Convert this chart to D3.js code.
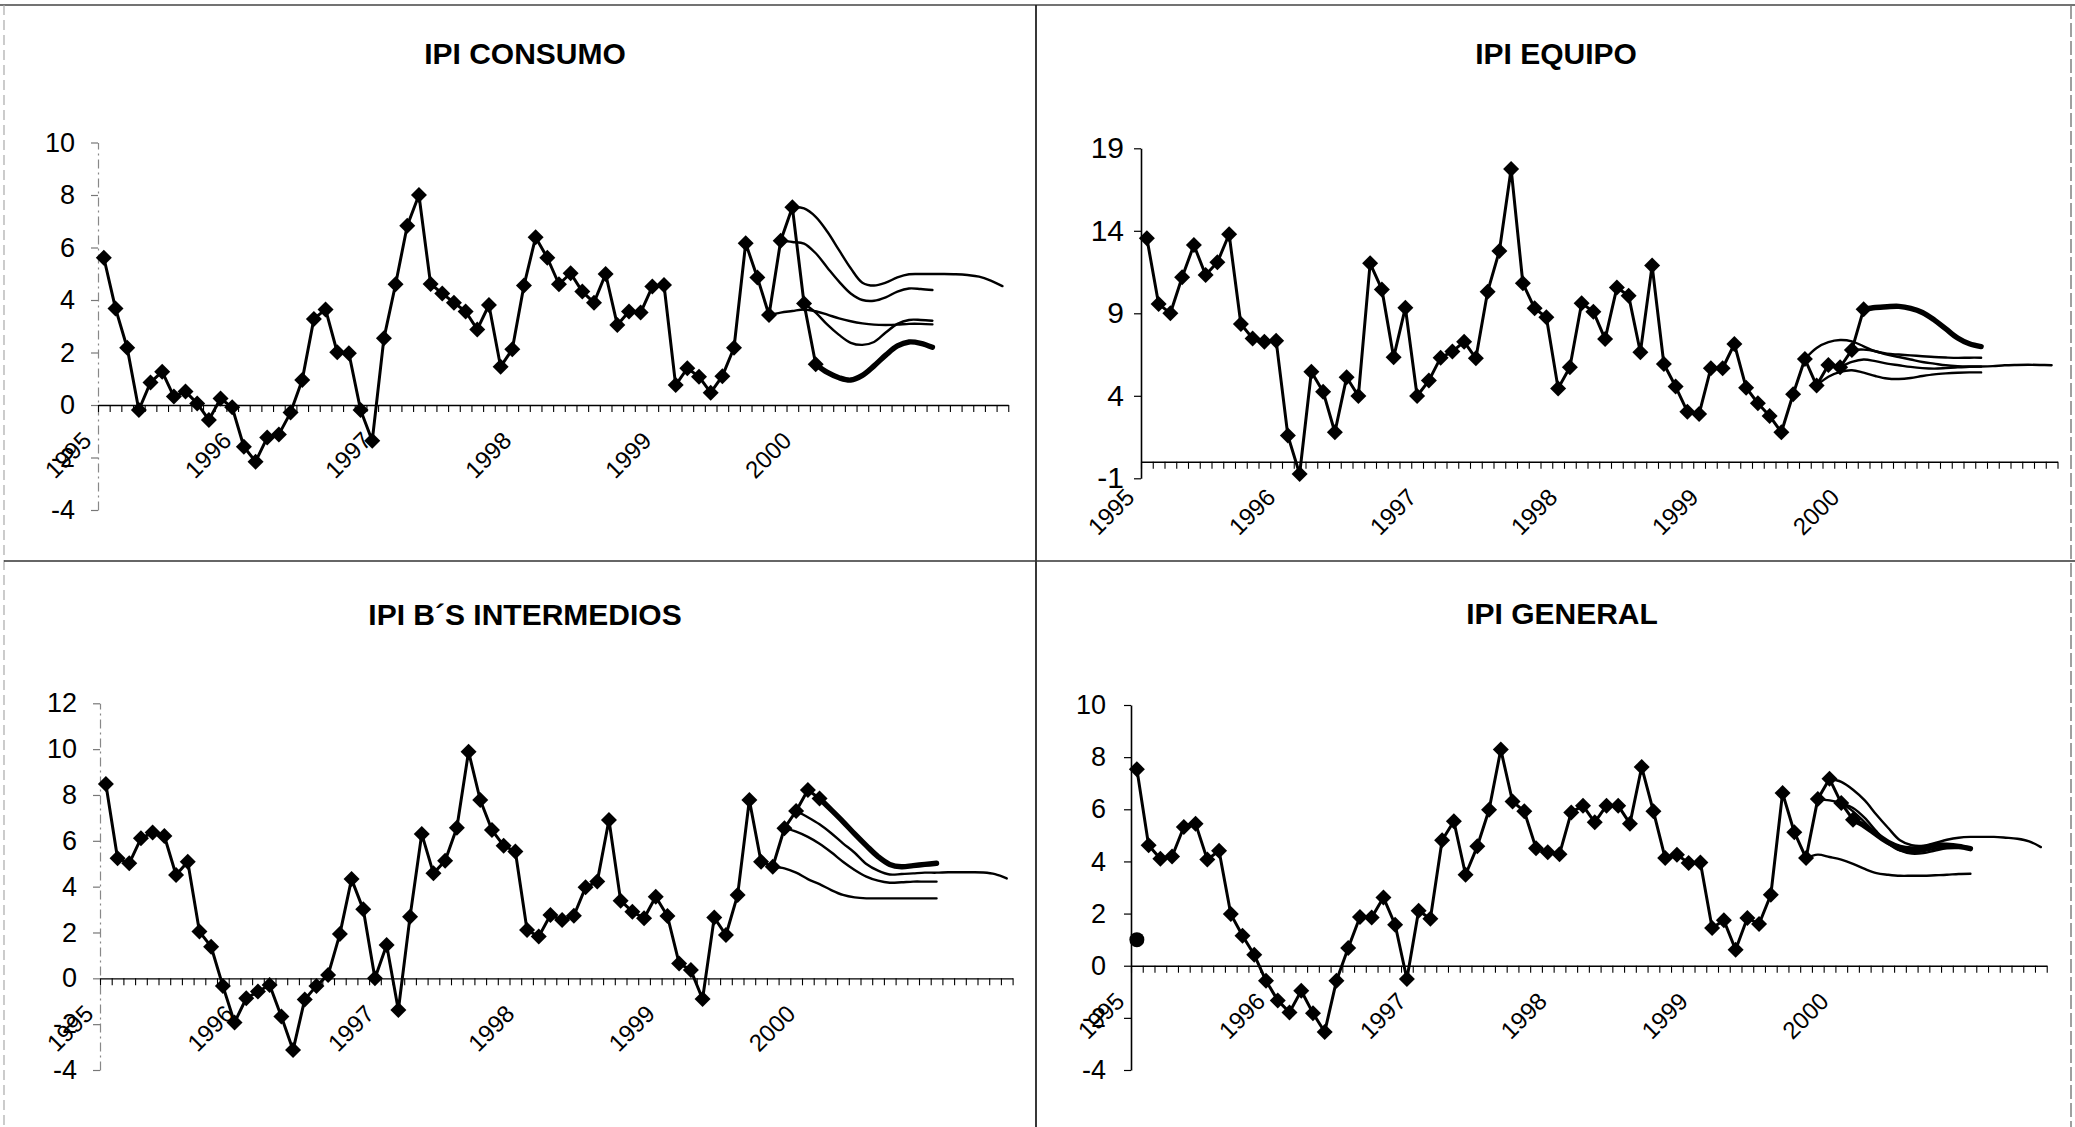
<!DOCTYPE html>
<html>
<head>
<meta charset="utf-8">
<script src="https://cdn.jsdelivr.net/npm/d3@7"></script>
<style>
  html, body { margin: 0; padding: 0; background: #fff; }
  svg { display: block; }
  text { font-family: "Liberation Sans", Arial, Helvetica, sans-serif; fill: #000; }
</style>
</head>
<body>
<svg id="chart" width="2075" height="1127"></svg>
<script>
// ---- categories: one slot per month, Jan 1995 .. Jun 2001 ----
const years = ["1995", "1996", "1997", "1998", "1999", "2000", "2001"];
const monthCount = 78;
const categories = d3.range(monthCount).map(i => years[Math.floor(i / 12)] + "-" + String(i % 12 + 1).padStart(2, "0"));
const yearTickLabels = ["1995", "1996", "1997", "1998", "1999", "2000"];

// ---- IPI CONSUMO (year-on-year %, Jan 1995 .. Feb 2000) ----
const consumoObserved = [5.61, 3.68, 2.18, -0.19, 0.86, 1.27, 0.32, 0.51, 0.06, -0.57, 0.25, -0.09,
  -1.59, -2.16, -1.24, -1.12, -0.29, 0.95, 3.28, 3.64, 2.01, 1.97, -0.19, -1.36,
  2.54, 4.60, 6.83, 8.00, 4.61, 4.25, 3.90, 3.56, 2.88, 3.81, 1.46, 2.12,
  4.55, 6.39, 5.61, 4.60, 5.02, 4.32, 3.90, 4.99, 3.05, 3.56, 3.52, 4.51,
  4.57, 0.76, 1.40, 1.08, 0.47, 1.10, 2.18, 6.16, 4.86, 3.43, 6.26, 7.53,
  3.87, 1.55];
const consumoForecastStart = [59, 58, 57, 60, 61];
const consumoForecasts = [
  [7.53, 7.49, 7.17, 6.60, 5.90, 5.21, 4.66, 4.55, 4.66, 4.86, 4.98, 4.99, 4.99, 4.99, 4.98, 4.95, 4.89, 4.74, 4.53],
  [6.26, 6.21, 6.15, 5.78, 5.23, 4.70, 4.25, 4.00, 3.97, 4.10, 4.32, 4.44, 4.42, 4.38],
  [3.43, 3.52, 3.58, 3.64, 3.57, 3.44, 3.30, 3.19, 3.11, 3.06, 3.05, 3.06, 3.09, 3.09, 3.07],
  [3.87, 3.52, 3.06, 2.67, 2.37, 2.29, 2.40, 2.76, 3.09, 3.24, 3.24, 3.21],
  [1.55, 1.24, 1.04, 0.95, 1.13, 1.49, 1.90, 2.25, 2.40, 2.35, 2.20]
];

// ---- IPI EQUIPO ----
const equipoObserved = [13.55, 9.57, 9.00, 11.18, 13.14, 11.32, 12.09, 13.79, 8.35, 7.48, 7.28, 7.34,
  1.59, -0.74, 5.46, 4.25, 1.79, 5.12, 3.99, 12.03, 10.45, 6.33, 9.34, 3.99,
  4.92, 6.31, 6.68, 7.28, 6.27, 10.31, 12.78, 17.75, 10.82, 9.30, 8.76, 4.45,
  5.73, 9.61, 9.10, 7.44, 10.56, 10.07, 6.64, 11.89, 5.93, 4.56, 3.04, 2.90,
  5.67, 5.67, 7.14, 4.49, 3.55, 2.78, 1.79, 4.09, 6.23, 4.62, 5.87, 5.73,
  6.78, 9.24];
const equipoForecastStart = [56, 57, 59, 60, 61];
const equipoForecasts = [
  [6.23, 6.90, 7.25, 7.38, 7.30, 7.00, 6.70, 6.55, 6.50, 6.45, 6.40, 6.35, 6.32, 6.30, 6.31, 6.31],
  [4.62, 5.15, 5.45, 5.55, 5.40, 5.20, 5.05, 5.02, 5.08, 5.20, 5.30, 5.36, 5.40, 5.42, 5.42],
  [5.73, 6.05, 6.20, 6.10, 5.95, 5.85, 5.75, 5.68, 5.65, 5.68, 5.72, 5.76, 5.77],
  [6.78, 6.80, 6.70, 6.50, 6.35, 6.20, 6.05, 5.95, 5.85, 5.80, 5.78, 5.78, 5.80, 5.85, 5.87, 5.88, 5.87, 5.85],
  [9.24, 9.35, 9.40, 9.42, 9.30, 9.05, 8.60, 8.05, 7.50, 7.15, 6.98]
];

// ---- IPI B'S INTERMEDIOS ----
const intermediosObserved = [8.48, 5.24, 5.02, 6.11, 6.36, 6.21, 4.51, 5.09, 2.04, 1.38, -0.33, -1.93,
  -0.87, -0.58, -0.29, -1.67, -3.13, -0.92, -0.33, 0.15, 1.93, 4.33, 3.01, 0.00,
  1.45, -1.38, 2.69, 6.30, 4.58, 5.13, 6.57, 9.89, 7.78, 6.47, 5.79, 5.53,
  2.11, 1.82, 2.76, 2.55, 2.73, 3.97, 4.22, 6.91, 3.39, 2.91, 2.62, 3.56,
  2.72, 0.65, 0.36, -0.90, 2.65, 1.89, 3.64, 7.78, 5.09, 4.87, 6.55, 7.30,
  8.22, 7.85];
const intermediosForecastStart = [59, 58, 57, 61];
const intermediosForecasts = [
  [7.30, 7.03, 6.72, 6.33, 5.89, 5.48, 4.99, 4.70, 4.53, 4.55, 4.58, 4.61, 4.61, 4.63, 4.63, 4.63, 4.62, 4.55, 4.36],
  [6.55, 6.40, 6.17, 5.87, 5.50, 5.09, 4.73, 4.44, 4.26, 4.17, 4.19, 4.22, 4.22, 4.22],
  [4.87, 4.80, 4.61, 4.33, 4.11, 3.85, 3.64, 3.53, 3.49, 3.49, 3.49, 3.49, 3.49, 3.49, 3.49],
  [7.85, 7.35, 6.84, 6.30, 5.79, 5.31, 4.97, 4.87, 4.92, 4.97, 5.02]
];

// ---- IPI GENERAL ----
const generalObserved = [7.54, 4.62, 4.10, 4.19, 5.32, 5.45, 4.07, 4.41, 1.98, 1.15, 0.42, -0.58,
  -1.33, -1.79, -0.96, -1.82, -2.54, -0.58, 0.68, 1.87, 1.85, 2.62, 1.57, -0.51,
  2.11, 1.80, 4.81, 5.54, 3.49, 4.58, 5.98, 8.29, 6.30, 5.92, 4.51, 4.35,
  4.28, 5.88, 6.14, 5.50, 6.14, 6.14, 5.45, 7.62, 5.92, 4.13, 4.26, 3.94,
  3.96, 1.45, 1.74, 0.61, 1.83, 1.60, 2.72, 6.62, 5.12, 4.13, 6.39, 7.17,
  6.24, 5.60];
const generalForecastStart = [59, 58, 60, 57, 61];
const generalForecasts = [
  [7.17, 7.05, 6.75, 6.34, 5.79, 5.28, 4.81, 4.62, 4.60, 4.71, 4.83, 4.91, 4.94, 4.94, 4.94, 4.91, 4.87, 4.77, 4.55],
  [6.39, 6.34, 6.24, 6.05, 5.67, 5.15, 4.71, 4.42, 4.30, 4.32, 4.42, 4.50, 4.51, 4.51],
  [6.24, 5.92, 5.50, 5.06, 4.68, 4.42, 4.35, 4.39, 4.49, 4.54, 4.54, 4.51],
  [4.13, 4.26, 4.17, 4.07, 3.91, 3.71, 3.55, 3.49, 3.45, 3.45, 3.45, 3.47, 3.49, 3.52, 3.53],
  [5.60, 5.35, 5.03, 4.73, 4.54, 4.48, 4.51, 4.62, 4.62, 4.58, 4.49]
];
const generalSinglePoint = [{ month: 0, value: 1.0 }];

// ---- ticks ----
const ticksConsumo = [-4, -2, 0, 2, 4, 6, 8, 10];
const ticksEquipo = [-1, 4, 9, 14, 19];
const ticksIntermedios = [-4, -2, 0, 2, 4, 6, 8, 10, 12];
const ticksGeneral = [-4, -2, 0, 2, 4, 6, 8, 10];

// ---- panel layout ----
const panels = [
  { title: "IPI CONSUMO", titleX: 525, titleY: 64, left: 98, band: 11.67, yDomain: [-4, 10], yRange: [510, 142.5],
    ticks: ticksConsumo, tickFont: 27, tickPad: 16, faintAxis: true,
    observed: consumoObserved, fStart: consumoForecastStart, forecasts: consumoForecasts, thick: 4 },
  { title: "IPI EQUIPO", titleX: 1556, titleY: 64, left: 1141, band: 11.75, yDomain: [-1, 19], yRange: [478.3, 148.3],
    ticks: ticksEquipo, tickFont: 30, tickPad: 10, faintAxis: false,
    observed: equipoObserved, fStart: equipoForecastStart, forecasts: equipoForecasts, thick: 4 },
  { title: "IPI B\u00B4S INTERMEDIOS", titleX: 525, titleY: 625, left: 100, band: 11.70, yDomain: [-4, 12], yRange: [1070, 703.3],
    ticks: ticksIntermedios, tickFont: 27, tickPad: 16, faintAxis: true,
    observed: intermediosObserved, fStart: intermediosForecastStart, forecasts: intermediosForecasts, thick: 3 },
  { title: "IPI GENERAL", titleX: 1562, titleY: 624, left: 1131, band: 11.74, yDomain: [-4, 10], yRange: [1070, 705],
    ticks: ticksGeneral, tickFont: 27, tickPad: 18, faintAxis: false,
    observed: generalObserved, fStart: generalForecastStart, forecasts: generalForecasts, thick: 4,
    extraPoints: generalSinglePoint }
];

const svg = d3.select("#chart");

// ---- frame lines separating the four panels ----
const frame = svg.append("g").attr("fill", "none");
frame.append("line").attr("x1", 0).attr("y1", 5).attr("x2", 2075).attr("y2", 5)
  .attr("stroke", "#444").attr("stroke-width", 1.6);
frame.append("line").attr("x1", 4).attr("y1", 5).attr("x2", 4).attr("y2", 1127)
  .attr("stroke", "#aaa").attr("stroke-width", 1.2).attr("stroke-dasharray", "10,5");
frame.append("line").attr("x1", 1036).attr("y1", 5).attr("x2", 1036).attr("y2", 1127)
  .attr("stroke", "#222").attr("stroke-width", 1.8);
frame.append("line").attr("x1", 4).attr("y1", 561).attr("x2", 2075).attr("y2", 561)
  .attr("stroke", "#333").attr("stroke-width", 1.6);
frame.append("line").attr("x1", 2071).attr("y1", 5).attr("x2", 2071).attr("y2", 1127)
  .attr("stroke", "#777").attr("stroke-width", 1.4).attr("stroke-dasharray", "14,4");

// square rotated 45 degrees
const diamond = {
  draw(ctx, size) {
    const r = Math.sqrt(size / 2);
    ctx.moveTo(0, -r); ctx.lineTo(r, 0); ctx.lineTo(0, r); ctx.lineTo(-r, 0); ctx.closePath();
  }
};

function drawPanel(p) {
  const g = svg.append("g");
  const x = d3.scaleLinear().domain([0, categories.length]).range([p.left, p.left + categories.length * p.band]);
  const cx = i => x(i + 0.5);
  const y = d3.scaleLinear().domain(p.yDomain).range(p.yRange);

  // title
  g.append("text").attr("x", p.titleX).attr("y", p.titleY).attr("text-anchor", "middle")
    .style("font-size", "30px").style("font-weight", "bold").text(p.title);

  // value axis
  const yAxis = d3.axisLeft(y).tickValues(p.ticks).tickSize(7).tickSizeOuter(0)
    .tickPadding(p.tickPad).tickFormat(d => String(d));
  const ga = g.append("g").attr("transform", `translate(${p.left},0)`).call(yAxis);
  ga.selectAll("text").style("font-size", p.tickFont + "px").attr("fill", "#000");
  ga.selectAll(".tick line").attr("stroke", p.faintAxis ? "#777" : "#000").attr("stroke-width", 1.2);
  ga.select(".domain").attr("stroke", p.faintAxis ? "#888" : "#000")
    .attr("stroke-width", p.faintAxis ? 1.2 : 1.6)
    .attr("stroke-dasharray", p.faintAxis ? "9,4,2,4" : null);

  // category axis crossing at zero, a tick between every month
  const xAxis = d3.axisBottom(x).tickValues(d3.range(0, categories.length + 1)).tickSize(7)
    .tickSizeOuter(0).tickFormat("");
  const gx = g.append("g").attr("transform", `translate(0,${y(0)})`).call(xAxis);
  gx.select(".domain").attr("stroke", "#000").attr("stroke-width", 1.4);
  gx.selectAll(".tick line").attr("stroke", "#000").attr("stroke-width", 1.1);

  // year labels every 12 months, slanted
  g.append("g").selectAll("text").data(yearTickLabels).join("text")
    .attr("transform", (d, k) => `translate(${cx(k * 12) - 11},${y(0) + 37}) rotate(-45)`)
    .attr("text-anchor", "end")
    .style("font-size", "24px")
    .text(d => d);

  // forecast paths
  const smooth = d3.line().x(d => cx(d.month)).y(d => y(d.value)).curve(d3.curveCatmullRom.alpha(0.5));
  p.forecasts.forEach((vals, k) => {
    const pts = vals.map((v, j) => ({ month: p.fStart[k] + j, value: v }));
    g.append("path").datum(pts).attr("d", smooth)
      .attr("fill", "none").attr("stroke", "#000")
      .attr("stroke-width", k === p.thick ? 5.4 : 2.4)
      .attr("stroke-linejoin", "round").attr("stroke-linecap", "round");
  });

  // observed series
  const obs = p.observed.map((v, i) => ({ month: i, value: v }));
  const straight = d3.line().x(d => cx(d.month)).y(d => y(d.value));
  g.append("path").datum(obs).attr("d", straight)
    .attr("fill", "none").attr("stroke", "#000").attr("stroke-width", 3).attr("stroke-linejoin", "round");
  g.append("g").selectAll("path").data(obs).join("path")
    .attr("transform", d => `translate(${cx(d.month)},${y(d.value)})`)
    .attr("d", d3.symbol().type(diamond).size(128))
    .attr("fill", "#000");

  if (p.extraPoints) {
    g.append("g").selectAll("circle").data(p.extraPoints).join("circle")
      .attr("cx", d => cx(d.month)).attr("cy", d => y(d.value)).attr("r", 7.5).attr("fill", "#000");
  }
}

panels.forEach(drawPanel);
</script>
</body>
</html>
